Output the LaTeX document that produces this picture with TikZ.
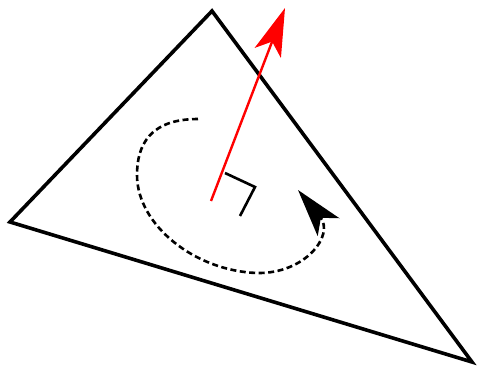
\documentclass[tikz,border=0pt]{standalone}
\usetikzlibrary{arrows.meta}
\begin{document}
\begin{tikzpicture}[x=1pt,y=-1pt,
  tri/.style={line width=3.6pt,line join=miter},
  normal/.style={red,line width=2.4pt,-{Stealth[length=48pt,width=28pt,inset=12pt]}},
  rangle/.style={line width=2.6pt},
  spin/.style={line width=2.6pt,dash pattern=on 6pt off 3.5pt,-{Stealth[length=48pt,width=28pt,inset=12pt]}}]
\useasboundingbox (0,0) rectangle (480,369);
\coordinate (A) at (212,11);
\coordinate (B) at (10,222);
\coordinate (C) at (472,362);
\draw[tri] (A) -- (B) -- (C) -- cycle;
\coordinate (base) at (211,201);
\coordinate (tip) at (285,8);
\draw[normal] (base) -- (tip);
\coordinate (r1) at (225,173);
\coordinate (r2) at (255,187);
\coordinate (r3) at (240,216);
\draw[rangle] (r1) -- (r2) -- (r3);
\coordinate (s0) at (198,119);
\coordinate (s1) at (137,175);
\coordinate (s2) at (257,273);
\coordinate (s3) at (298,190);
\draw[spin] (s0) .. controls (150,119) and (137,145) .. (s1)
  .. controls (137,225) and (195,271) .. (s2)
  .. controls (305,274) and (335,235) .. (s3);
\end{tikzpicture}
\end{document}
